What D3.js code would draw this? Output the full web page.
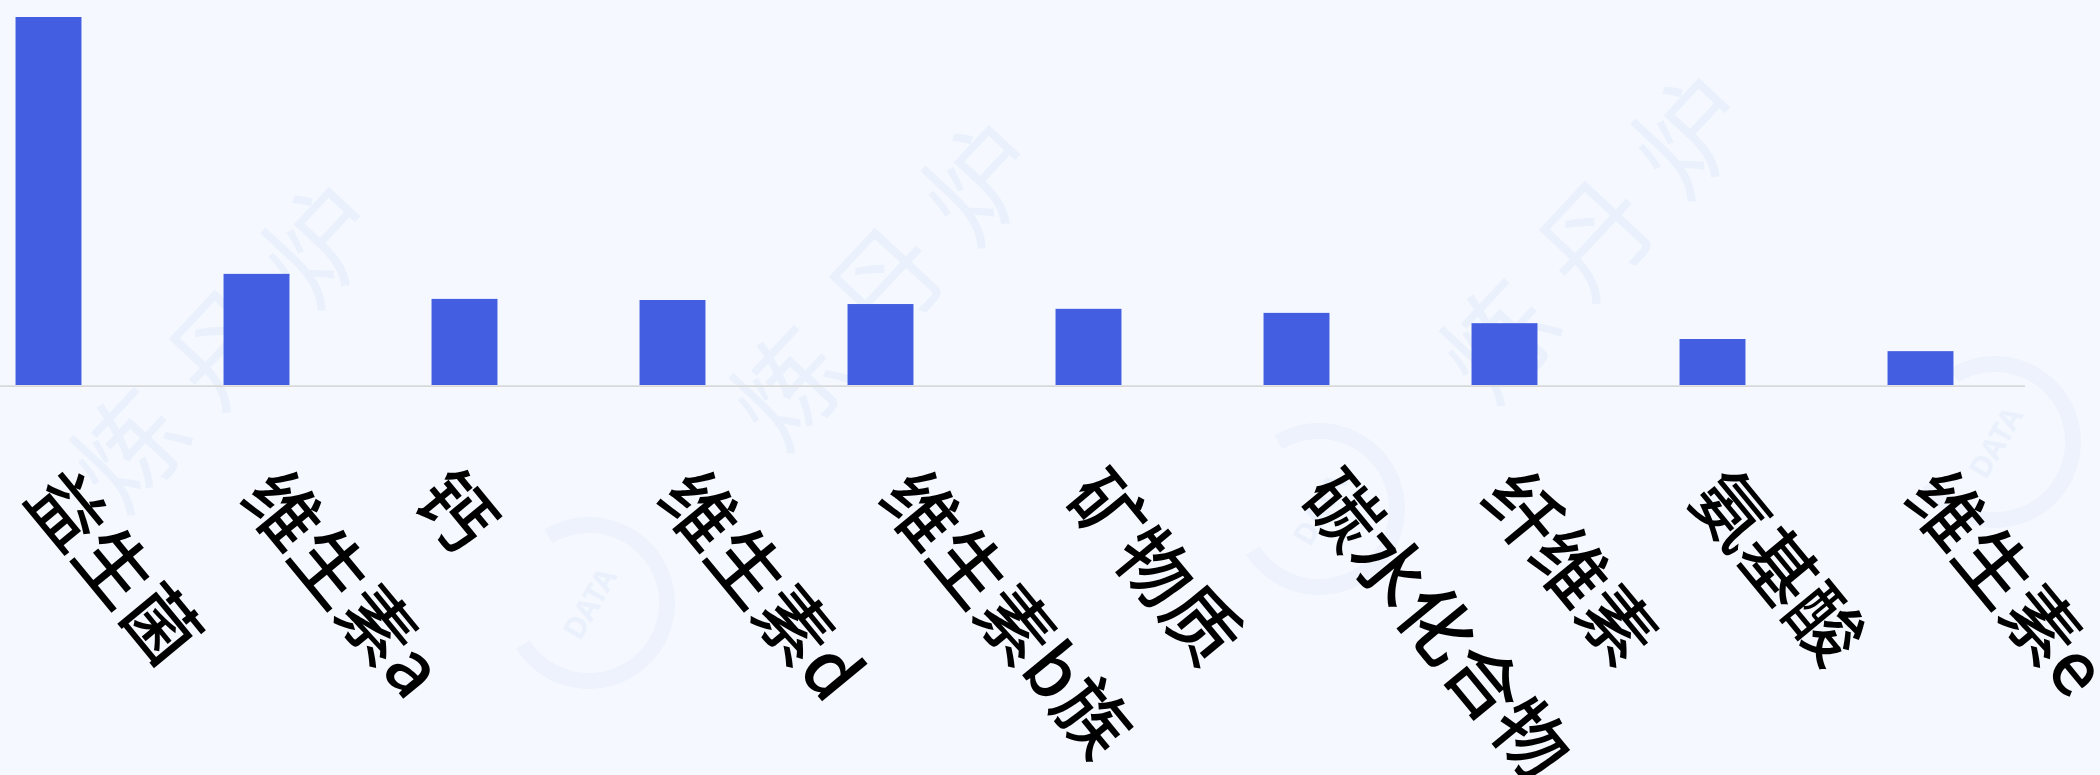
<!DOCTYPE html>
<html>
<head>
<meta charset="utf-8">
<script src="https://cdn.jsdelivr.net/npm/d3@7"></script>
<style>
  html, body { margin: 0; padding: 0; background: #f5f9ff; overflow: hidden; }
  svg { display: block; }
</style>
</head>
<body>
<svg id="chart" width="2100" height="775"></svg>
<script>
// ---- data ----
const categories = ["益生菌", "维生素a", "钙", "维生素d", "维生素b族", "矿物质", "碳水化合物", "纤维素", "氨基酸", "维生素e"];
const values = [1000, 302, 234, 231, 220, 207, 196, 168, 125, 92];
const watermarkText = "炼丹炉";
const logoText = "DATA";

const W = 2100, H = 775;
const svg = d3.select("#chart");

svg.append("rect").attr("width", W).attr("height", H).attr("fill", "#f5f9ff");

// ---- faint watermark ----
const wm = svg.append("g").attr("fill", "#ebf1fc");
const wmSpots = [[230, 330], [890, 268], [1600, 221]];
wmSpots.forEach(p => {
  wm.append("text")
    .attr("transform", `translate(${p[0]},${p[1]}) rotate(-47)`)
    .attr("text-anchor", "middle")
    .attr("dominant-baseline", "central")
    .attr("font-family", "Noto Sans CJK SC")
    .attr("font-size", 110)
    .attr("letter-spacing", 30)
    .text(watermarkText);
});
const logoSpots = [[589, 603], [1319, 509], [1995, 442]];
logoSpots.forEach(p => {
  const g = wm.append("g").attr("transform", `translate(${p[0]},${p[1]}) rotate(-60)`);
  g.append("path")
    .attr("d", d3.arc()({innerRadius: 70, outerRadius: 86, startAngle: 0.5, endAngle: 5.2}))
    .attr("fill", "#edf2fc");
  g.append("text")
    .attr("text-anchor", "middle")
    .attr("dominant-baseline", "central")
    .attr("font-family", "Noto Sans, sans-serif")
    .attr("font-weight", "bold")
    .attr("font-size", 30)
    .text(logoText);
});

// ---- scales ----
const x = d3.scaleBand()
  .domain(categories)
  .range([-55.5, 2024.5])
  .paddingInner(0.683)
  .paddingOuter(0.3415);

const y = d3.scaleLinear()
  .domain([0, d3.max(values)])
  .range([385, 17]);

// ---- bars ----
svg.append("g")
  .selectAll("rect")
  .data(categories)
  .join("rect")
  .attr("x", d => x(d))
  .attr("y", (d, i) => y(values[i]))
  .attr("width", x.bandwidth())
  .attr("height", (d, i) => y(0) - y(values[i]))
  .attr("fill", "#435ee0");

// ---- axis ----
const axis = svg.append("g")
  .attr("transform", `translate(0,${y(0) + 0.6})`)
  .call(d3.axisBottom(x).tickSize(0).tickSizeOuter(0).tickFormat(""));
axis.select(".domain").attr("stroke", "#d9d9d9").attr("stroke-width", 1.6);
axis.selectAll(".tick").remove();

// ---- labels ----
const angle = 50.5;
const labels = svg.append("g")
  .attr("font-family", "Noto Sans CJK SC, Noto Sans, sans-serif")
  .attr("font-size", 74)
  .attr("font-weight", 500)
  .attr("fill", "#000");

categories.forEach(c => {
  const t = labels.append("text").attr("text-anchor", "start").text(c);
  const len = t.node().getComputedTextLength();
  const cx = x(c) + x.bandwidth() / 2;
  const sx = cx - 67 + 0.185 * len;
  const sy = 499;
  t.attr("transform", `translate(${sx},${sy}) rotate(${angle})`);
});
</script>
</body>
</html>
